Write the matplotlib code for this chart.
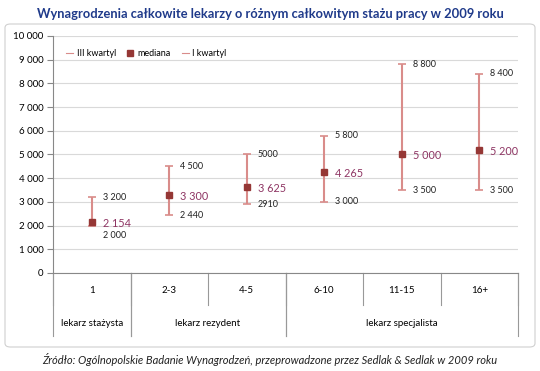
import numpy as np
import matplotlib.pyplot as plt
from matplotlib.lines import Line2D
from matplotlib.patches import FancyBboxPatch

plt.rcParams['font.family'] = ['Lato', 'DejaVu Sans']

# data
staz = ['1', '2-3', '4-5', '6-10', '11-15', '16+']
grupy = ['lekarz stażysta', 'lekarz rezydent', 'lekarz specjalista']
grupy_span = [(0, 0), (1, 2), (3, 5)]
q3 = [3200, 4500, 5000, 5800, 8800, 8400]
mediana = [2154, 3300, 3625, 4265, 5000, 5200]
q1 = [2000, 2440, 2910, 3000, 3500, 3500]
q3_txt = ['3 200', '4 500', '5000', '5 800', '8 800', '8 400']
med_txt = ['2 154', '3 300', '3 625', '4 265', '5 000', '5 200']
q1_txt = ['2 000', '2 440', '2910', '3 000', '3 500', '3 500']

bar_col = '#D98C8A'
med_col = '#953735'
lab_col = '#8E3563'

fig = plt.figure(figsize=(5.4, 3.71), dpi=100)
W, H = 540, 371

# chart frame
frame = FancyBboxPatch((5 / W, 1 - 347 / H), 530 / W, 323 / H,
                       boxstyle='round,pad=0,rounding_size=0.01',
                       transform=fig.transFigure, facecolor='white',
                       edgecolor='#D0D0D0', lw=0.8, zorder=-5)
fig.patches.append(frame)

ax = fig.add_axes([53 / W, 1 - 273 / H, 465 / W, 237 / H])
ax.set_zorder(2)
ax.patch.set_alpha(0)
x = np.arange(len(staz))

yerr = [np.array(mediana) - np.array(q1), np.array(q3) - np.array(mediana)]
ax.errorbar(x, mediana, yerr=yerr, fmt='none', ecolor=bar_col, elinewidth=1.5,
            capsize=3, capthick=1.2, zorder=3)
ax.plot(x, mediana, 's', color=med_col, ms=5, zorder=4)

for i in x:
    ax.annotate(q3_txt[i], (i, q3[i]), xytext=(8, 0), textcoords='offset points',
                va='center', fontsize=6.5, color='#222222')
    dy = -7 if mediana[i] - q1[i] < 300 else 0
    ax.annotate(q1_txt[i], (i, q1[i]), xytext=(8, dy), textcoords='offset points',
                va='center', fontsize=6.5, color='#222222')
    ax.annotate(med_txt[i], (i, mediana[i]), xytext=(8, -1), textcoords='offset points',
                va='center', fontsize=7.8, color=lab_col)

ax.set_xlim(-0.5, len(staz) - 0.5)
ax.set_ylim(0, 10000)
ax.set_yticks(np.arange(0, 10001, 1000))
ax.set_yticklabels([f'{v:,}'.replace(',', ' ') for v in range(0, 10001, 1000)],
                   fontsize=7)
ax.yaxis.grid(True, color='#D9D9D9', lw=0.8)
ax.set_axisbelow(True)
ax.set_xticks([])
ax.tick_params(axis='y', length=4, color='#888888', pad=3)
for s in ['top', 'right']:
    ax.spines[s].set_visible(False)
ax.spines['left'].set_color('#888888')
ax.spines['bottom'].set_color('#888888')

# category rows below the axis
tr = ax.get_xaxis_transform()
r1_text, r1_bot, r2_text, r2_bot = -0.072, -0.135, -0.215, -0.266
for i, s in enumerate(staz):
    ax.text(i, r1_text, s, transform=tr, ha='center', va='center', fontsize=7)
for i in range(len(staz) + 1):
    ax.plot([i - 0.5, i - 0.5], [0, r1_bot], transform=tr, color='#999999',
            lw=0.8, clip_on=False)
for (a, b), g in zip(grupy_span, grupy):
    ax.text((a + b) / 2, r2_text, g, transform=tr, ha='center', va='center',
            fontsize=7)
    for e in (a - 0.5, b + 0.5):
        ax.plot([e, e], [0, r2_bot], transform=tr, color='#999999', lw=0.8,
                clip_on=False)

handles = [Line2D([], [], color=bar_col, lw=0.8),
           Line2D([], [], marker='s', ls='none', color=med_col, ms=4),
           Line2D([], [], color=bar_col, lw=0.8)]
ax.legend(handles, ['III kwartyl', 'mediana', 'I kwartyl'], loc='upper left',
          bbox_to_anchor=(0.01, 0.98), ncol=3, frameon=False, fontsize=6.5,
          handlelength=0.8, handletextpad=0.4, columnspacing=1.2)

fig.text(0.5, 1 - 14 / H, 'Wynagrodzenia całkowite lekarzy o różnym całkowitym stażu pracy w 2009 roku',
         ha='center', va='center', fontsize=9.3, fontweight='bold', color='#1F3A8A')
fig.text(0.5, 1 - 359 / H, 'Źródło: Ogólnopolskie Badanie Wynagrodzeń, przeprowadzone przez Sedlak & Sedlak w 2009 roku',
         ha='center', va='center', fontsize=8, style='italic', color='#222222')

fig.savefig('out.png', dpi=100)
